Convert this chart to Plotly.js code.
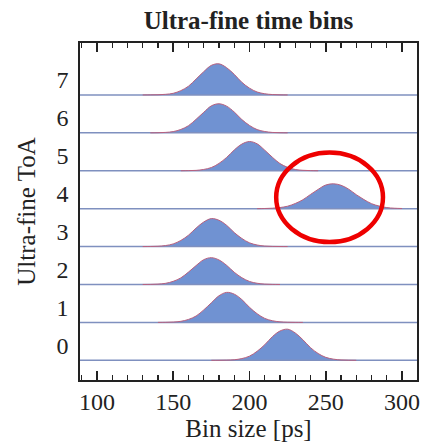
<!DOCTYPE html>
<html>
<head>
<meta charset="utf-8">
<script src="https://cdn.plot.ly/plotly-3.0.1.min.js"></script>
<style>html,body{margin:0;padding:0;background:#fff;}#chart{width:425px;height:442px;}</style>
</head>
<body>
<div id="chart"></div>
<script>
// ---- data ----
const binCenters = [130,135,140,145,150,155,160,165,170,175,180,185,190,195,200,205,210,215,220,225,230,235,240,245,250,255,260,265,270,275,280,285,290,295,300];
const rowLabels = ['0','1','2','3','4','5','6','7'];
const counts0 = [0,0,0,0,0,0,0,0,0,0,1,5,17,55,133,290,501,760,942,1000,879,661,407,219,94,37,11,3,0,0,0,0,0,0,0];
const counts1 = [0,0,0,3,11,34,95,205,401,630,856,965,908,733,484,279,128,53,17,5,1,0,0,0,0,0,0,0,0,0,0,0,0,0,0];
const counts2 = [0,3,12,37,101,212,399,608,797,862,789,616,393,218,97,39,12,3,0,0,0,0,0,0,0,0,0,0,0,0,0,0,0,0,0];
const counts3 = [0,3,10,33,85,197,366,595,790,900,846,684,451,260,120,50,16,5,1,0,0,0,0,0,0,0,0,0,0,0,0,0,0,0,0];
const counts4 = [0,0,0,0,0,0,0,0,0,0,0,0,0,0,0,0,5,14,36,79,166,287,457,620,760,800,752,628,449,293,160,83,34,14,5];
const counts5 = [0,0,0,0,0,0,4,12,42,104,236,428,668,858,940,866,661,434,231,109,40,14,4,0,0,0,0,0,0,0,0,0,0,0,0];
const counts6 = [0,0,4,14,40,109,230,436,660,868,935,858,670,427,238,105,43,13,4,0,0,0,0,0,0,0,0,0,0,0,0,0,0,0,0];
const counts7 = [0,2,6,19,52,138,281,512,748,951,1000,876,662,405,219,94,38,12,3,0,0,0,0,0,0,0,0,0,0,0,0,0,0,0,0];

// ---- drawing ----
const countsByRow = [counts0,counts1,counts2,counts3,counts4,counts5,counts6,counts7];
const X_RANGE = [88.9, 309.8];
const Y_RANGE = [-0.92, 7.97];
const BASE_OFFSET = -0.40;
const SCALE = 0.00082;
const FONT = '"Liberation Serif"';

const traces = [];
countsByRow.forEach((c, k) => {
  const base = k + BASE_OFFSET;
  traces.push({x: X_RANGE, y: [base, base], mode: 'lines',
    line: {color: '#7f90bf', width: 1.5}, hoverinfo: 'skip', showlegend: false});
  let i0 = c.findIndex(v => v > 0), i1 = c.length - 1;
  while (i1 > 0 && c[i1] === 0) i1--;
  i0 = Math.max(0, i0 - 1); i1 = Math.min(c.length - 1, i1 + 1);
  const xs = binCenters.slice(i0, i1 + 1);
  const ys = c.slice(i0, i1 + 1).map(v => base + v * SCALE);
  traces.push({x: xs, y: ys, mode: 'lines', fill: 'tonexty', fillcolor: '#7092d2',
    line: {color: '#b8607e', width: 1, shape: 'spline', smoothing: 1},
    hoverinfo: 'skip', showlegend: false});
});

const layout = {
  width: 425, height: 442,
  margin: {l: 80, r: 8, t: 43, b: 62},
  paper_bgcolor: '#fff', plot_bgcolor: '#fff',
  showlegend: false,
  font: {family: FONT, color: '#222', size: 24},
  title: {text: '<b>Ultra-fine time bins</b>', font: {family: FONT, size: 25, color: '#222'},
    x: 0.5, xref: 'paper', xanchor: 'center', y: 0.955, yref: 'container', yanchor: 'middle'},
  xaxis: {range: X_RANGE, showgrid: false, zeroline: false,
    showline: true, linecolor: '#222', linewidth: 1.6, mirror: 'ticks',
    ticks: 'inside', ticklen: 9, tickwidth: 1.5, tickcolor: '#222',
    tick0: 100, dtick: 50,
    minor: {ticks: 'inside', ticklen: 5, tickwidth: 1.2, tickcolor: '#222', dtick: 10, tick0: 100, showgrid: false},
    tickfont: {family: FONT, size: 24, color: '#222'},
    title: {text: 'Bin size [ps]', font: {family: FONT, size: 25, color: '#222'}, standoff: 3}},
  yaxis: {range: Y_RANGE, showgrid: false, zeroline: false,
    showline: true, linecolor: '#222', linewidth: 1.6, mirror: true,
    ticks: '', tickvals: [0,1,2,3,4,5,6,7], ticktext: rowLabels,
    ticklabelstandoff: 5,
    tickfont: {family: FONT, size: 24, color: '#222'},
    title: {text: 'Ultra-fine ToA', font: {family: FONT, size: 25, color: '#222'}, standoff: 14}},
  shapes: [{type: 'circle', xref: 'x', yref: 'y', x0: 217.5, x1: 287.5, y0: 2.72, y1: 5.08,
    line: {color: '#ee0000', width: 4.5}}]
};

Plotly.newPlot('chart', traces, layout, {staticPlot: true, displayModeBar: false});
</script>
</body>
</html>
